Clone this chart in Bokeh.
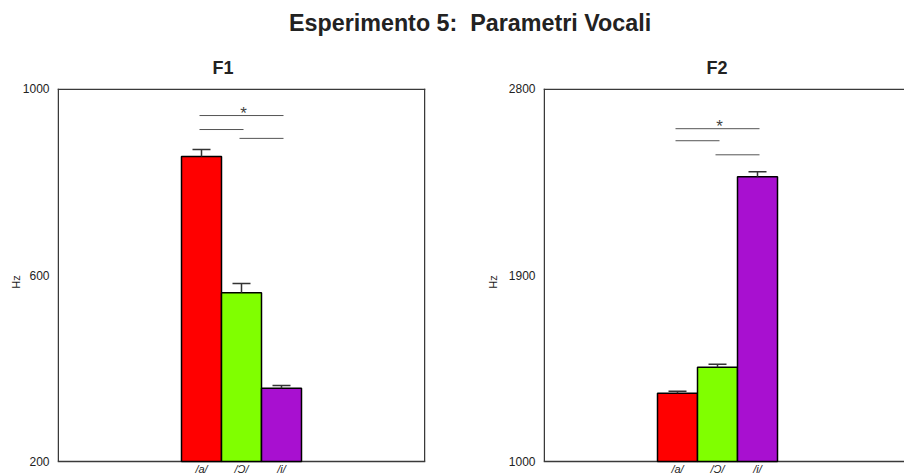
from bokeh.plotting import figure
from bokeh.models import (ColumnDataSource, FixedTicker, LinearAxis, Range1d,
                          Label, Div)
from bokeh.layouts import column, row
from bokeh.embed import file_html
from bokeh.resources import INLINE
from bokeh.core.properties import value

# ---------------- data ----------------
categories = ["/a/", "/Ɔ/", "/i/"]
bar_colors = ["#FF0000", "#80FF00", "#A810D0"]

f1_means = [854, 562, 357]
f1_errors = [15, 20, 6]
f1_ticks = [200, 600, 1000]

f2_means = [1329, 1455, 2374]
f2_errors = [10, 14, 24]
f2_ticks = [1000, 1900, 2800]

sig_pairs = [(0, 2), (0, 1), (1, 2)]
f1_sig_levels = [942, 912, 893]
f2_sig_levels = [2606, 2548, 2480]
sig_star_pair = 0  # index of the comparison marked with "*"

main_title = "Esperimento 5:&nbsp; Parametri Vocali"
panel_titles = ["F1", "F2"]

FONT = "Liberation Sans"
TXT = "#222222"
FRAME = "#3a3a3a"

FIG_H = 395
TOP = 8
PLOT_PX = 373     # height of the value area (ymin..ymax) in pixels
BELOW_PX = 14     # space under the value area for the category labels


def make_panel(means, errors, ticks, sig_levels, width, border_left,
               border_right, x_start, label_standoff, right_border):
    ymin, ymax = ticks[0], ticks[-1]
    frame_w = width - border_left - border_right
    xppu = 40.0
    x_end = x_start + frame_w / xppu
    ppu = PLOT_PX / float(ymax - ymin)
    y_start = ymin - BELOW_PX / ppu

    p = figure(width=width, height=FIG_H, output_backend="svg",
               toolbar_location=None, x_range=Range1d(x_start, x_end),
               y_range=Range1d(y_start, ymax), x_axis_location=None,
               y_axis_location=None,
               min_border_left=border_left, min_border_right=border_right,
               min_border_top=TOP, min_border_bottom=0)
    p.grid.visible = False
    p.background_fill_color = "white"
    p.border_fill_color = "white"
    p.outline_line_color = None

    yax = LinearAxis(ticker=FixedTicker(ticks=ticks), axis_label="Hz")
    yax.axis_line_color = None
    yax.major_tick_out = 0
    yax.major_tick_in = 0
    yax.minor_tick_out = 0
    yax.minor_tick_in = 0
    yax.major_label_standoff = 8
    yax.major_label_text_font = FONT
    yax.major_label_text_font_size = "12px"
    yax.major_label_text_color = TXT
    yax.axis_label_text_font = FONT
    yax.axis_label_text_font_size = "11px"
    yax.axis_label_text_font_style = "normal"
    yax.axis_label_text_color = TXT
    yax.axis_label_standoff = label_standoff
    p.add_layout(yax, "left")

    # frame borders (top, bottom, left and optionally right)
    lw = 1.5
    ix = (lw / 2.0) / xppu
    iy = (lw / 2.0) / ppu
    bx0 = [x_start, x_start, x_start + ix]
    bx1 = [x_end, x_end, x_start + ix]
    by0 = [ymax - iy, ymin, ymin]
    by1 = [ymax - iy, ymin, ymax]
    if right_border:
        bx0.append(x_end - ix)
        bx1.append(x_end - ix)
        by0.append(ymin)
        by1.append(ymax)
    p.segment(x0=bx0, y0=by0, x1=bx1, y1=by1, line_color=FRAME, line_width=lw)

    xs = list(range(len(categories)))

    src = ColumnDataSource(dict(x=xs, top=means, color=bar_colors,
                                err_top=[m + e for m, e in zip(means, errors)]))
    p.vbar(x="x", top="top", bottom=ymin, width=1.0, fill_color="color",
           line_color="black", line_width=1.5, source=src)

    cap = 0.225
    p.segment(x0="x", y0="top", x1="x", y1="err_top", line_color="#333333",
              line_width=1.5, source=src)
    cap_src = ColumnDataSource(dict(
        x0=[x - cap for x in xs], x1=[x + cap for x in xs],
        y=[m + e for m, e in zip(means, errors)]))
    p.segment(x0="x0", y0="y", x1="x1", y1="y", line_color="#333333",
              line_width=1.5, source=cap_src)

    ext = 0.05
    sig_src = ColumnDataSource(dict(
        x0=[a - ext for a, b in sig_pairs],
        x1=[b + ext for a, b in sig_pairs],
        y=sig_levels))
    p.segment(x0="x0", y0="y", x1="x1", y1="y", line_color="#555555",
              line_width=1, source=sig_src)

    a, b = sig_pairs[sig_star_pair]
    p.add_layout(Label(x=(a + b) / 2.0 + 0.05,
                       y=sig_levels[sig_star_pair] + 2.0 / ppu,
                       text="*", text_font=FONT, text_font_size="17px",
                       text_color="#444444", text_align="center",
                       text_baseline="middle"))

    cat_src = ColumnDataSource(dict(x=xs, y=[ymin - 1.5 / ppu] * len(xs),
                                    text=categories))
    p.text(x="x", y="y", text="text", source=cat_src,
           text_font=value(FONT), text_font_size=value("11px"),
           text_font_style="italic", text_color=TXT,
           text_align="center", text_baseline="top")
    return p


p1 = make_panel(f1_means, f1_errors, f1_ticks, f1_sig_levels,
                width=470, border_left=57, border_right=45, x_start=-3.6,
                label_standoff=-2, right_border=True)
p2 = make_panel(f2_means, f2_errors, f2_ticks, f2_sig_levels,
                width=434, border_left=73, border_right=0, x_start=-3.35,
                label_standoff=7, right_border=False)

header_html = (
    '<div style="font-family:\'Liberation Sans\', Arial, sans-serif;'
    'color:%s;white-space:nowrap;">'
    '<div style="height:46px;box-sizing:border-box;padding-left:289px;'
    'padding-top:7px;font-size:23.3px;font-weight:bold;">%s</div>'
    '<div style="height:34px;box-sizing:border-box;padding-top:12px;'
    'font-size:18px;font-weight:bold;line-height:20px;">'
    '<span style="display:inline-block;width:446px;text-align:center;">%s</span>'
    '<span style="display:inline-block;width:100px;margin-left:221px;'
    'text-align:center;">%s</span></div></div>'
) % (TXT, main_title, panel_titles[0], panel_titles[1])

header = Div(text=header_html, width=904, height=80, margin=(0, 0, 0, 0))

layout = column(header, row(p1, p2, spacing=0), spacing=0)

open("out.html", "w").write(file_html(layout, INLINE))
